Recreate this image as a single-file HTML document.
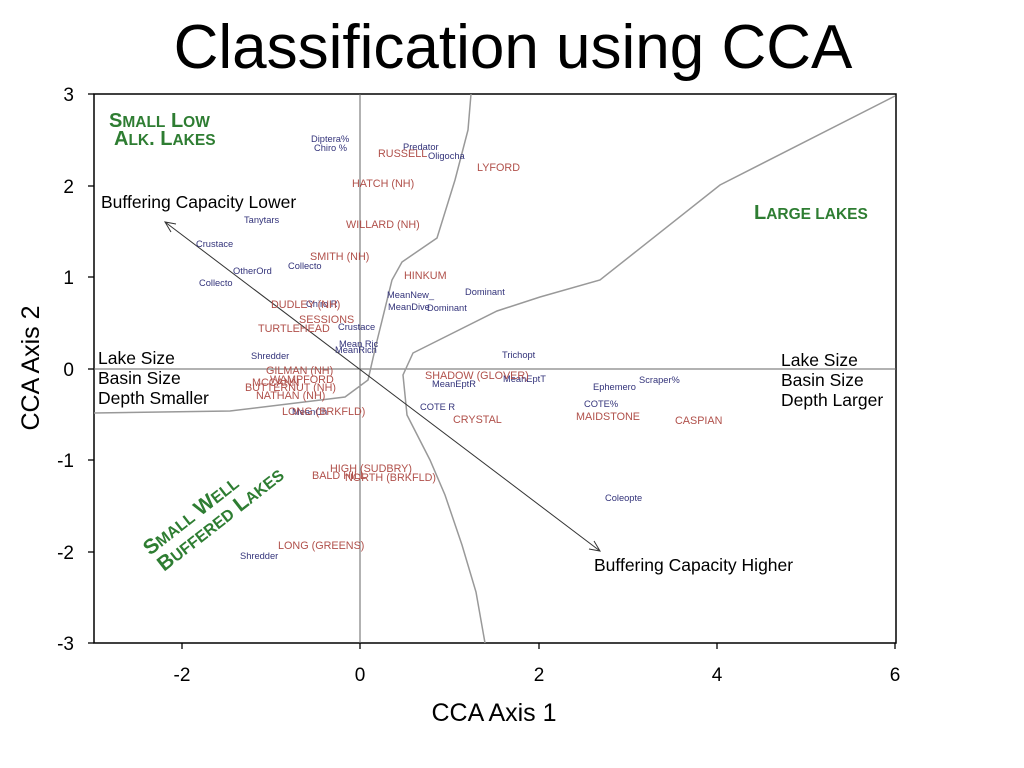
<!DOCTYPE html>
<html><head><meta charset="utf-8"><style>
body{margin:0;background:#fff;}
svg{display:block;font-family:"Liberation Sans",sans-serif;}
.b{fill:#33337a;font-size:9.3px}
.r{fill:#b0504a;font-size:10.8px}
.g{fill:#2e7d32;font-weight:bold}
.k{fill:#000;font-size:17.5px}
</style></head><body>
<svg width="1024" height="768" viewBox="0 0 1024 768">
<text x="513" y="68" text-anchor="middle" font-size="62" fill="#000">Classification using CCA</text>
<rect x="94" y="94" width="802" height="549" fill="none" stroke="#000" stroke-width="1.5"/>
<line x1="94" y1="369" x2="896" y2="369" stroke="#666" stroke-width="1"/>
<line x1="360" y1="94" x2="360" y2="643" stroke="#666" stroke-width="1"/>
<g stroke="#000" stroke-width="1.3">
<line x1="88" y1="94" x2="94" y2="94"/><line x1="88" y1="186" x2="94" y2="186"/><line x1="88" y1="277" x2="94" y2="277"/><line x1="88" y1="369" x2="94" y2="369"/><line x1="88" y1="460" x2="94" y2="460"/><line x1="88" y1="552" x2="94" y2="552"/><line x1="88" y1="643" x2="94" y2="643"/>
<line x1="182" y1="643" x2="182" y2="649"/><line x1="360" y1="643" x2="360" y2="649"/><line x1="539" y1="643" x2="539" y2="649"/><line x1="717" y1="643" x2="717" y2="649"/><line x1="895" y1="643" x2="895" y2="649"/>
</g>
<g font-size="19" fill="#000" text-anchor="end">
<text x="74" y="101">3</text><text x="74" y="193">2</text><text x="74" y="284">1</text><text x="74" y="376">0</text><text x="74" y="467">-1</text><text x="74" y="559">-2</text><text x="74" y="650">-3</text>
</g>
<g font-size="19" fill="#000" text-anchor="middle">
<text x="182" y="681">-2</text><text x="360" y="681">0</text><text x="539" y="681">2</text><text x="717" y="681">4</text><text x="895" y="681">6</text>
</g>
<text x="494" y="721" font-size="25" text-anchor="middle">CCA Axis 1</text>
<text transform="translate(39,368) rotate(-90)" font-size="25" text-anchor="middle">CCA Axis 2</text>
<g fill="none" stroke="#999" stroke-width="1.5">
<polyline points="94,413 230,411 345,397 368,380 376,345 392,280 402,262 437,238 455,180 468,130 471,94"/>
<polyline points="895,96 720,185 600,280 540,297 497,311 413,353 403,375 407,415 430,460 445,495 462,545 476,592 485,643"/>
</g>
<g stroke="#333" stroke-width="1" fill="none">
<line x1="165" y1="222" x2="600" y2="551"/>
<polyline points="176,224 165,222 171,232"/>
<polyline points="589,549 600,551 594,541"/>
</g>
<g class="g">
<text x="109" y="127" font-size="20">S<tspan font-size="15.5">MALL</tspan> L<tspan font-size="15.5">OW</tspan></text>
<text x="114" y="145" font-size="20">A<tspan font-size="15.5">LK</tspan>. L<tspan font-size="15.5">AKES</tspan></text>
<text x="754" y="219" font-size="20">L<tspan font-size="15.5">ARGE LAKES</tspan></text>
<g transform="translate(150,556) rotate(-38)"><text x="0" y="0" font-size="21">S<tspan font-size="16">MALL</tspan> W<tspan font-size="16">ELL</tspan></text></g>
<g transform="translate(164,572) rotate(-38)"><text x="0" y="0" font-size="21">B<tspan font-size="16">UFFERED</tspan> L<tspan font-size="16">AKES</tspan></text></g>
</g>
<text x="101" y="208" class="k">Buffering Capacity Lower</text>
<text x="594" y="571" class="k">Buffering Capacity Higher</text>
<text x="98" y="364" class="k">Lake Size</text><text x="98" y="384" class="k">Basin Size</text><text x="98" y="404" class="k">Depth Smaller</text>
<text x="781" y="366" class="k">Lake Size</text><text x="781" y="386" class="k">Basin Size</text><text x="781" y="406" class="k">Depth Larger</text>
<g class="b">
<text x="311" y="142">Diptera%</text><text x="314" y="151">Chiro %</text>
<text x="403" y="150">Predator</text><text x="428" y="159">Oligocha</text>
<text x="244" y="223">Tanytars</text>
<text x="196" y="247">Crustace</text>
<text x="233" y="274">OtherOrd</text><text x="288" y="269">Collecto</text>
<text x="199" y="286">Collecto</text>
<text x="387" y="298">MeanNew_</text><text x="465" y="295">Dominant</text>
<text x="388" y="310">MeanDive</text><text x="427" y="311">Dominant</text>
<text x="306" y="307">Chiro R</text>
<text x="338" y="330">Crustace</text>
<text x="339" y="347">Mean Ric</text><text x="335" y="353">MeanRich</text>
<text x="251" y="359">Shredder</text>
<text x="502" y="358">Trichopt</text>
<text x="432" y="387">MeanEptR</text><text x="503" y="382">MeanEptT</text>
<text x="593" y="390">Ephemero</text><text x="639" y="383">Scraper%</text>
<text x="584" y="407">COTE%</text>
<text x="420" y="410">COTE R</text>
<text x="292" y="415">MeanCh</text>
<text x="605" y="501">Coleopte</text>
<text x="240" y="559">Shredder</text>
</g>
<g class="r">
<text x="378" y="157">RUSSELL</text>
<text x="477" y="171">LYFORD</text>
<text x="352" y="187">HATCH (NH)</text>
<text x="346" y="228">WILLARD (NH)</text>
<text x="310" y="260">SMITH (NH)</text>
<text x="404" y="279">HINKUM</text>
<text x="271" y="308">DUDLEY (NH)</text>
<text x="299" y="323">SESSIONS</text>
<text x="258" y="332">TURTLEHEAD</text>
<text x="266" y="374">GILMAN (NH)</text>
<text x="270" y="383">WAMPFORD</text>
<text x="252" y="386">MCCANN</text>
<text x="245" y="391">BUTTERNUT (NH)</text>
<text x="256" y="399">NATHAN (NH)</text>
<text x="282" y="415">LONG (BRKFLD)</text>
<text x="425" y="379">SHADOW (GLOVER)</text>
<text x="453" y="423">CRYSTAL</text>
<text x="576" y="420">MAIDSTONE</text>
<text x="675" y="424">CASPIAN</text>
<text x="330" y="472">HIGH (SUDBRY)</text>
<text x="312" y="479">BALD HILL</text>
<text x="345" y="481">NORTH (BRKFLD)</text>
<text x="278" y="549">LONG (GREENS)</text>
</g>
</svg>
</body></html>
